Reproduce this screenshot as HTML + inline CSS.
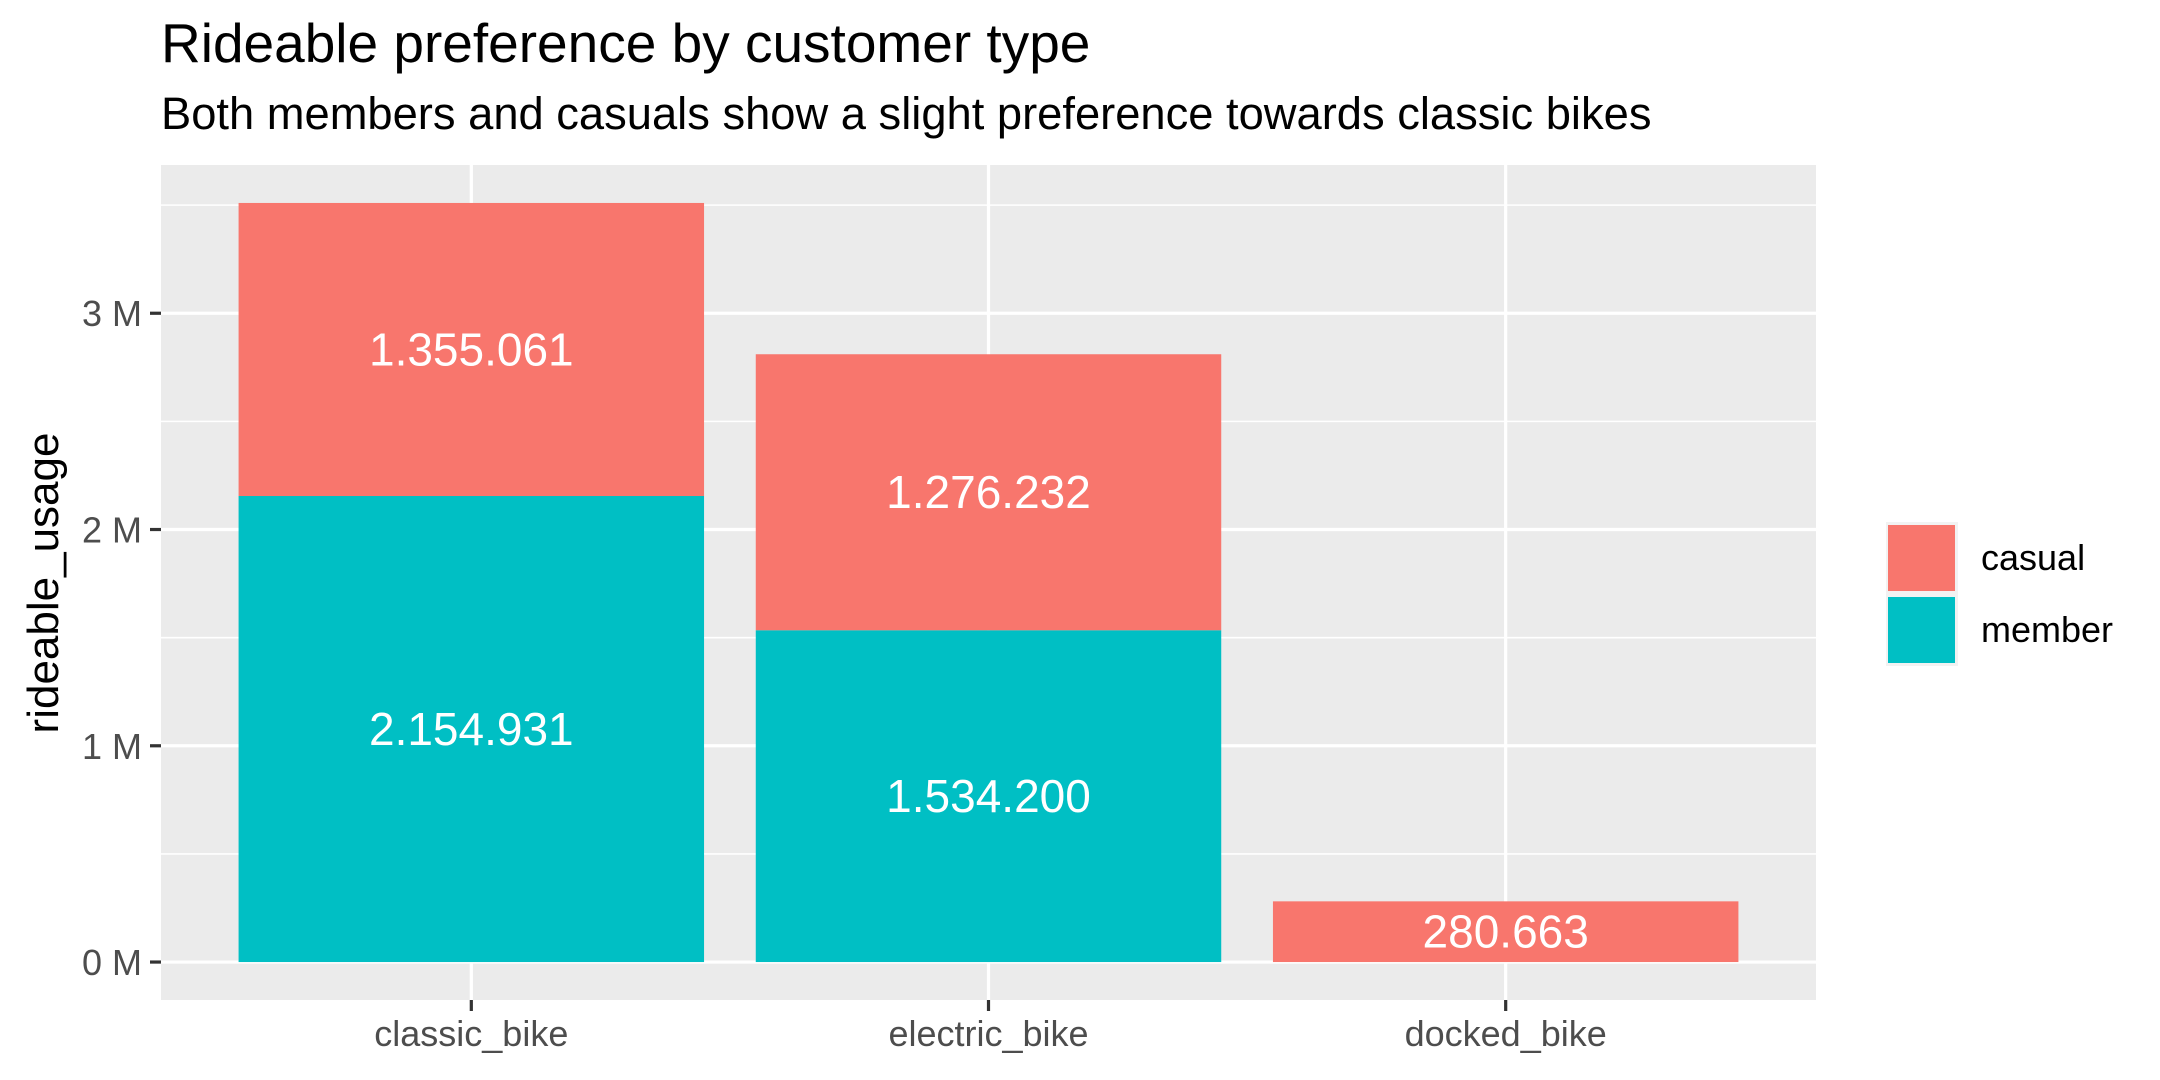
<!DOCTYPE html>
<html><head><meta charset="utf-8"><style>
html,body{margin:0;padding:0;background:#fff;}
svg{display:block;font-family:"Liberation Sans",Arial,sans-serif;}
</style></head><body>
<svg id="chart" width="2160" height="1080" viewBox="0 0 2160 1080" xmlns="http://www.w3.org/2000/svg">
<rect x="0" y="0" width="2160" height="1080" fill="#fff"/>
<text x="161" y="62" font-size="55" fill="#000">Rideable preference by customer type</text>
<text x="161" y="129" font-size="45.3" fill="#000">Both members and casuals show a slight preference towards classic bikes</text>
<rect x="161" y="165" width="1655" height="835" fill="#ebebeb"/>
<g id="grid"></g>
<g id="bars"></g>
<g id="axes"></g>
<text transform="translate(58,583) rotate(-90)" text-anchor="middle" font-size="44" fill="#000">rideable_usage</text>
<g>
<rect x="1886" y="522" width="72" height="144" fill="#f2f2f2"/>
<rect x="1888" y="525" width="67" height="66" fill="#F8766D"/>
<rect x="1888" y="597" width="67" height="66" fill="#00BFC4"/>
<text x="1981" y="570" font-size="36" fill="#000">casual</text>
<text x="1981" y="642" font-size="36" fill="#000">member</text>
</g>
</svg>
<script>
const categories = ["classic_bike","electric_bike","docked_bike"];
const memberValues = [2154931, 1534200, 0];
const casualValues = [1355061, 1276232, 280663];
const memberLabels = ["2.154.931","1.534.200",""];
const casualLabels = ["1.355.061","1.276.232","280.663"];
const yTicks = [0,1000000,2000000,3000000];
const yTickLabels = ["0 M","1 M","2 M","3 M"];

const NS="http://www.w3.org/2000/svg";
const PL=161, PR=1816, PT=165, PB=1000;
const totals = categories.map((c,i)=>memberValues[i]+casualValues[i]);
const ymax = Math.max(...totals);
const y0 = -0.05*ymax, y1 = ymax*1.05;
function ys(v){return PB-(v-y0)/(y1-y0)*(PB-PT);}
const xlo=0.4, xhi=categories.length+0.6;
function xs(i){return PL+(i+1-xlo)/(xhi-xlo)*(PR-PL);}
const unit=(PR-PL)/(xhi-xlo);
function mk(tag,attrs,parent){const e=document.createElementNS(NS,tag);for(const k in attrs)e.setAttribute(k,attrs[k]);parent.appendChild(e);return e;}
const grid=document.getElementById('grid'), bars=document.getElementById('bars'), axes=document.getElementById('axes');
for(let k=0;k<yTicks.length;k++){
  const v=yTicks[k]+ (yTicks[1]-yTicks[0])/2;
  if(v>y1) continue;
  const l=mk('line',{x1:PL,x2:PR,y1:ys(v),y2:ys(v),stroke:'#fff','stroke-width':1.6},grid);
  
  
}
yTicks.forEach((v,k)=>{
  const l=mk('line',{x1:PL,x2:PR,y1:ys(v),y2:ys(v),stroke:'#fff','stroke-width':3.2},grid);
  
  
  const t=mk('line',{x1:PL-11,x2:PL,y1:ys(v),y2:ys(v),stroke:'#333','stroke-width':3.2},axes);
  
  
  const tx=mk('text',{x:PL-19,y:ys(v)+13,'text-anchor':'end','font-size':36,fill:'#4d4d4d'},axes);
  tx.textContent=yTickLabels[k];
  
  
});
categories.forEach((c,i)=>{
  const cx=xs(i);
  const g=mk('line',{x1:cx,x2:cx,y1:PT,y2:PB,stroke:'#fff','stroke-width':3.2},grid);
  
  
  const t=mk('line',{x1:cx,x2:cx,y1:PB,y2:PB+11,stroke:'#333','stroke-width':3.2},axes);
  
  
  const tx=mk('text',{x:cx,y:PB+46,'text-anchor':'middle','font-size':36,fill:'#4d4d4d'},axes);
  tx.textContent=c;
  
  
  const w=unit*0.9, x=cx-w/2;
  const m=memberValues[i], ca=casualValues[i];
  if(m>0){
    const r=mk('rect',{x:x,y:ys(m),width:w,height:ys(0)-ys(m),fill:'#00BFC4'},bars);
    
    
    const lt=mk('text',{x:cx,y:ys(m/2)+16,'text-anchor':'middle','font-size':46,fill:'#fff'},bars);
    lt.textContent=memberLabels[i];
    
    
  }
  const r2=mk('rect',{x:x,y:ys(m+ca),width:w,height:ys(m)-ys(m+ca),fill:'#F8766D'},bars);
  
  
  const lt2=mk('text',{x:cx,y:ys(m+ca/2)+16,'text-anchor':'middle','font-size':46,fill:'#fff'},bars);
  lt2.textContent=casualLabels[i];
  
  
});
</script>
</body></html>
